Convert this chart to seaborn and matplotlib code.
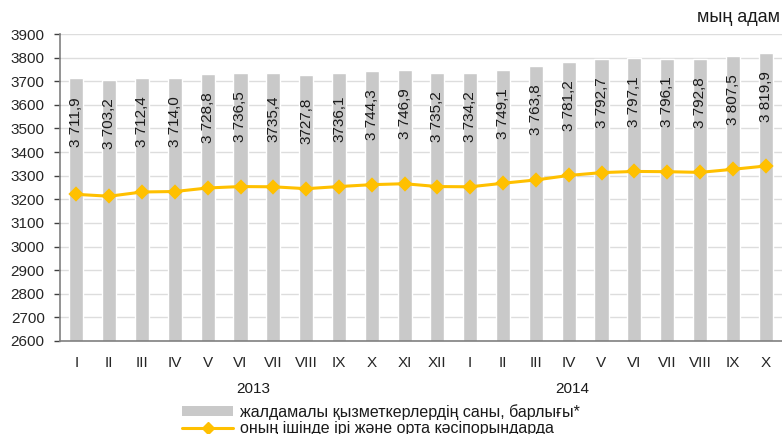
import numpy as np
import pandas as pd
import matplotlib
matplotlib.use("Agg")
import matplotlib.pyplot as plt
import seaborn as sns
from matplotlib.lines import Line2D
from matplotlib.patches import Patch
import matplotlib.transforms as mtransforms

months = ["I", "II", "III", "IV", "V", "VI", "VII", "VIII", "IX", "X", "XI", "XII",
          "I", "II", "III", "IV", "V", "VI", "VII", "VIII", "IX", "X"]
years = ["2013"] * 12 + ["2014"] * 10
total = [3711.9, 3703.2, 3712.4, 3714.0, 3728.8, 3736.5, 3735.4, 3727.8, 3736.1, 3744.3,
         3746.9, 3735.2, 3734.2, 3749.1, 3763.8, 3781.2, 3792.7, 3797.1, 3796.1, 3792.8,
         3807.5, 3819.9]
total_labels = ["3 711,9", "3 703,2", "3 712,4", "3 714,0", "3 728,8", "3 736,5", "3735,4",
                "3727,8", "3736,1", "3 744,3", "3 746,9", "3 735,2", "3 734,2", "3 749,1",
                "3 763,8", "3 781,2", "3 792,7", "3 797,1", "3 796,1", "3 792,8", "3 807,5",
                "3 819,9"]
large_medium = [3221, 3213, 3231, 3233, 3248, 3254, 3253, 3245, 3254, 3262,
                3266, 3254, 3253, 3268, 3282, 3301, 3313, 3318, 3317, 3314, 3327, 3341]
year_labels = ["2013", "2014"]
year_centers = [5.4, 15.1]
legend_labels = ["жалдамалы қызметкерлердің саны, барлығы*",
                 "оның ішінде ірі және орта кәсіпорындарда"]
unit_label = "мың адам"

sns.set_theme(style="white")
plt.rcParams["font.family"] = ["Liberation Sans", "DejaVu Sans"]
plt.rcParams["text.color"] = "#1a1a1a"

df = pd.DataFrame({
    "period": [f"{y}-{m}" for y, m in zip(years, months)],
    "total": total,
    "lm": large_medium,
})

fig = plt.figure(figsize=(7.82, 4.34), dpi=100)
ax = fig.add_axes([60 / 782, 1 - 341 / 434, 1 - 60 / 782, (341 - 34) / 434])

bar_color = "#C9C9C9"
line_color = "#FFC000"

sns.barplot(data=df, x="period", y="total", color=bar_color, width=0.43,
            saturation=1, ax=ax, zorder=2)
sns.pointplot(data=df, x="period", y="lm", color=line_color, markers="D",
              markersize=6.5, linewidth=2.2, ax=ax, zorder=4)

ax.set_ylim(2600, 3900)
ax.set_xlim(-0.5, len(months) - 0.5)
ax.set_yticks(np.arange(2600, 3901, 100))
ax.yaxis.grid(True, color="#DDDDDD", linewidth=1.0, zorder=0)
ax.set_axisbelow(True)
ax.set_xlabel("")
ax.set_ylabel("")

for s in ["top", "right"]:
    ax.spines[s].set_visible(False)
for s in ["left", "bottom"]:
    ax.spines[s].set_color("#808080")
    ax.spines[s].set_linewidth(1.2)

ax.set_xticks(range(len(months)))
ax.set_xticklabels(months)
ax.set_xticks(np.arange(-0.5, len(months), 1), minor=True)
ax.tick_params(axis="x", which="major", length=0, pad=11, labelsize=11)
ax.tick_params(axis="x", which="minor", length=4, width=1, color="#404040", direction="out")
ax.tick_params(axis="y", which="major", length=4, width=1, color="#404040",
               direction="out", left=True, pad=7, labelsize=11)

for i, (v, lab) in enumerate(zip(total, total_labels)):
    ax.text(i, v - 292, lab, rotation=90, ha="center", va="bottom", fontsize=11,
            color="#1a1a1a", zorder=5)

trans = mtransforms.blended_transform_factory(ax.transData, fig.transFigure)
for yl, xc in zip(year_labels, year_centers):
    ax.text(xc, 1 - 389 / 434, yl, transform=trans, ha="center", va="center",
            fontsize=11)

fig.text(780 / 782, 1 - 18 / 434, unit_label, ha="right", va="center", fontsize=13)

handles = [Patch(facecolor=bar_color, edgecolor="none"),
           Line2D([0], [0], color=line_color, lw=2.2, marker="D", markersize=6.5)]
fig.legend(handles, legend_labels, loc="upper left",
           bbox_to_anchor=(182 / 782, 1 - 404 / 434), frameon=False, fontsize=11.5,
           handlelength=3.2, handleheight=0.6, handletextpad=0.4, borderpad=0,
           borderaxespad=0, labelspacing=0.1)

fig.savefig("out.png", dpi=100)
